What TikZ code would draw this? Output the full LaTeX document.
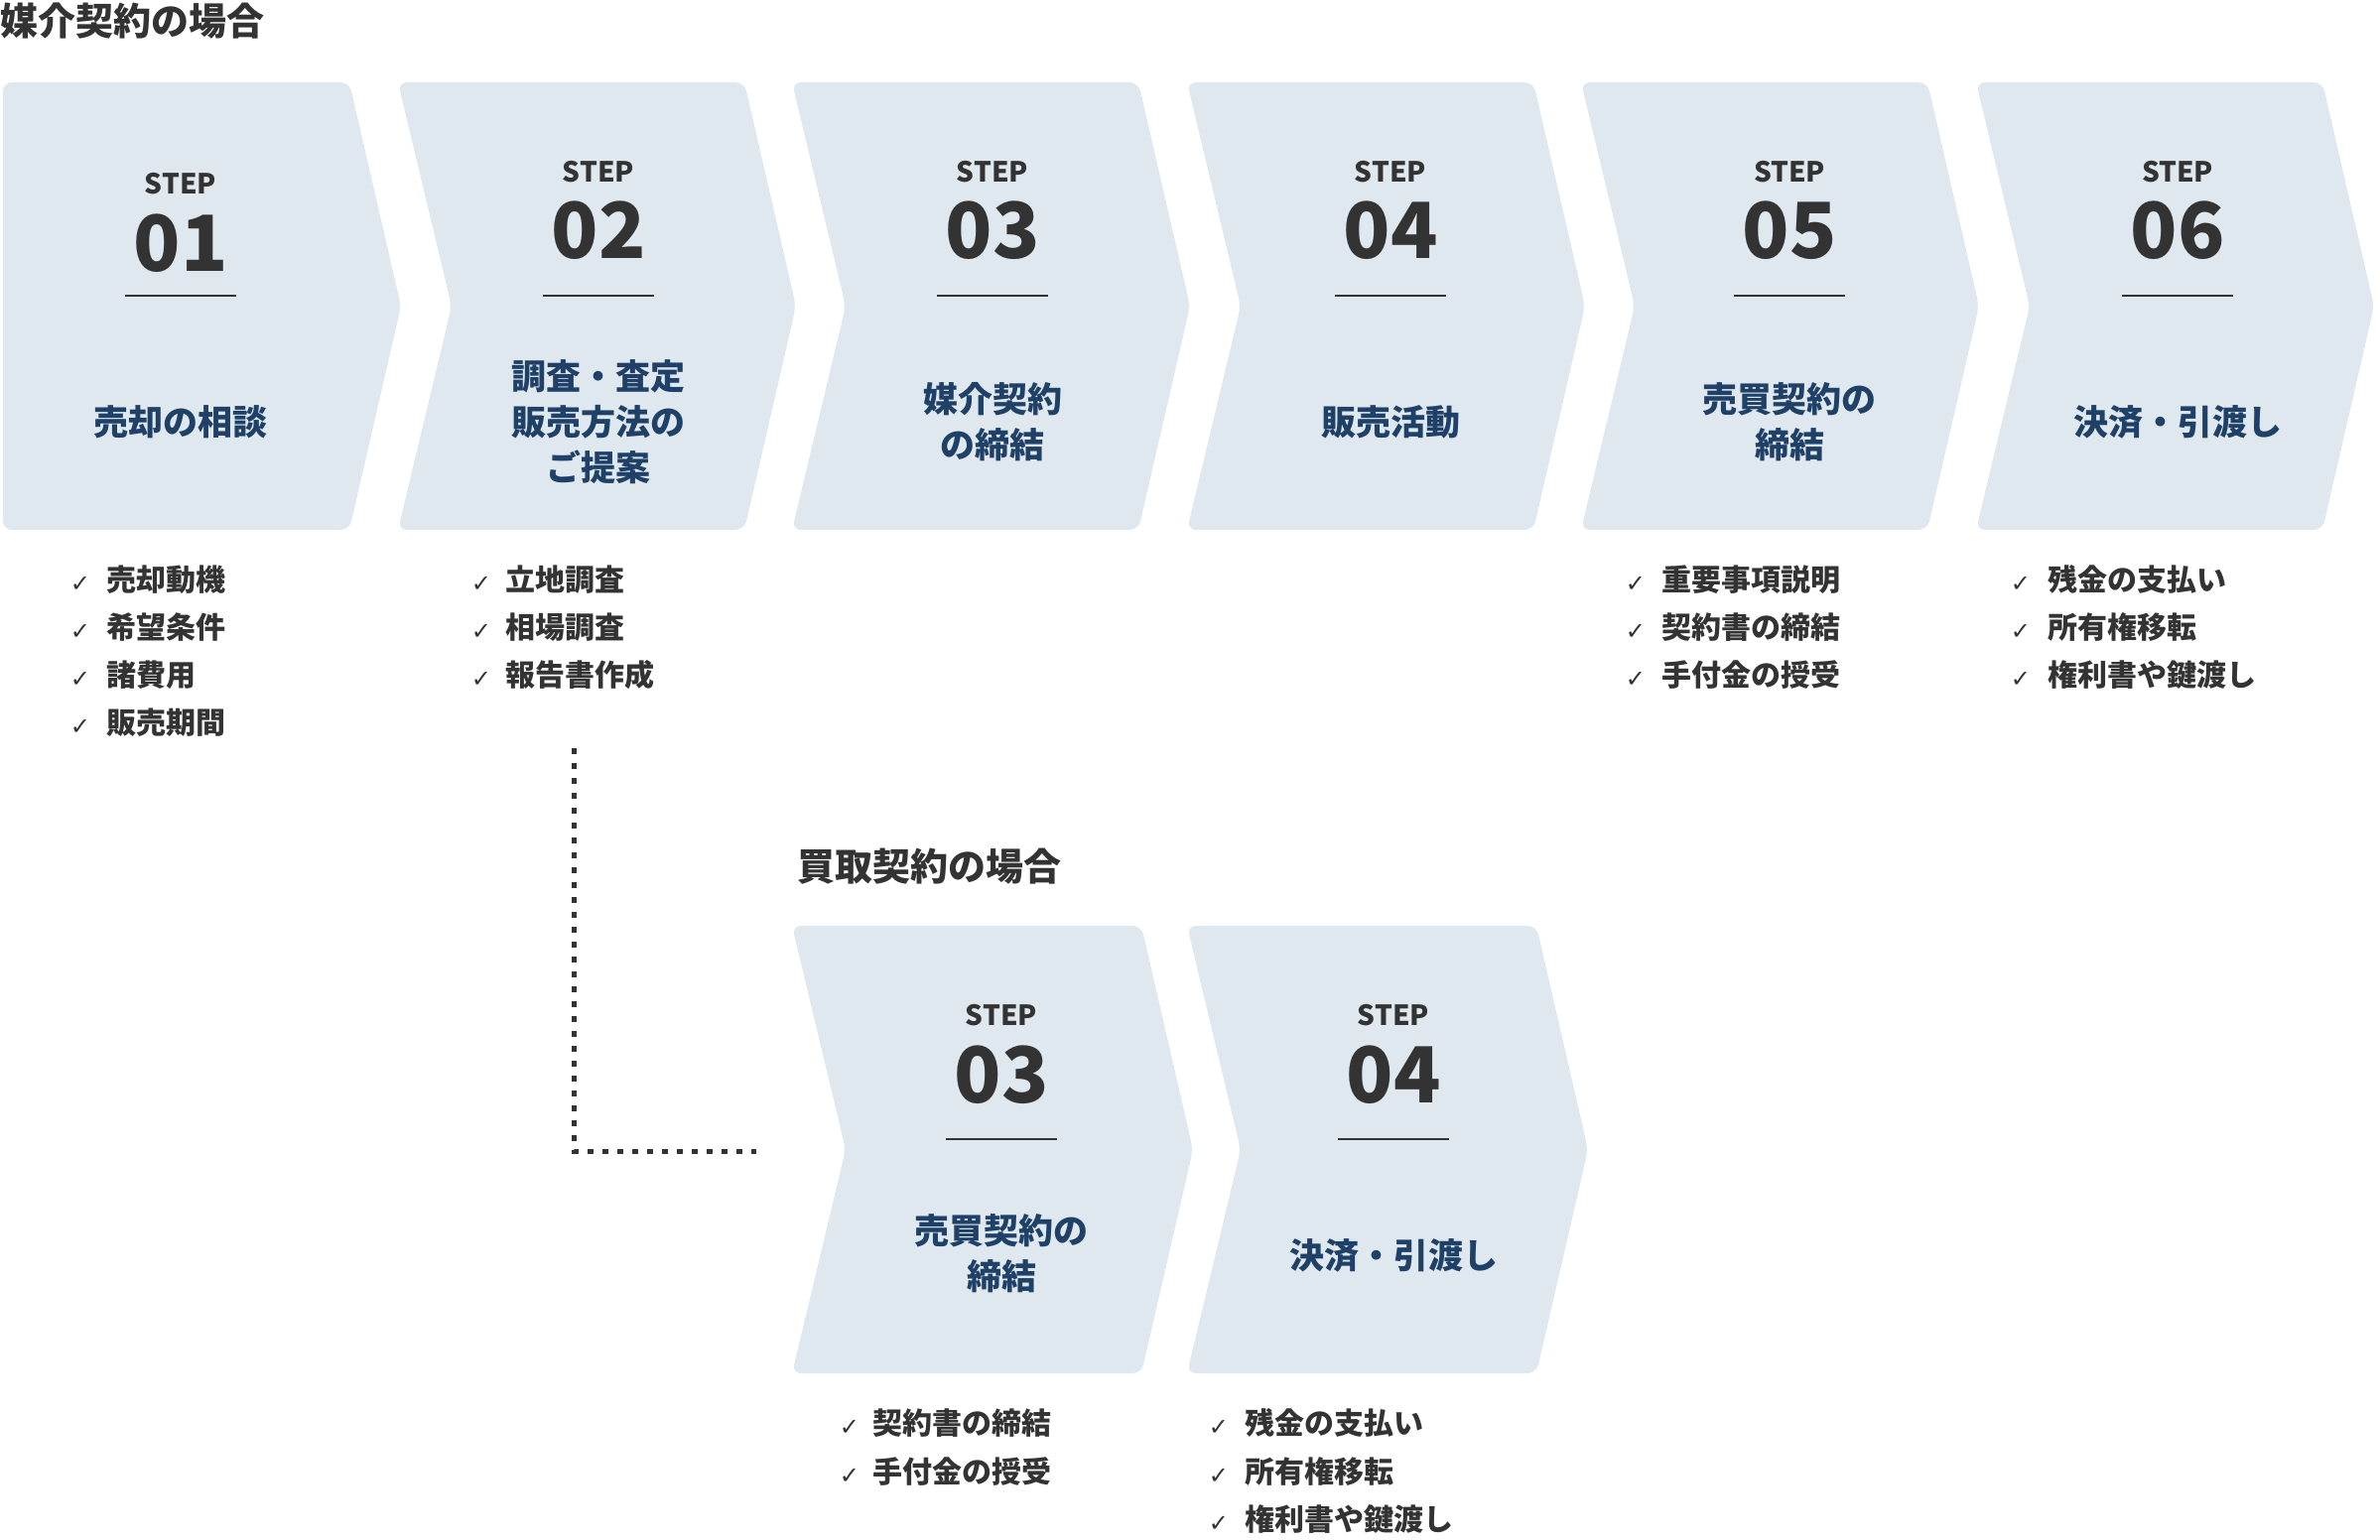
\documentclass[tikz,border=0pt]{standalone}
\usepackage{fontspec}
\setmainfont{Noto Sans CJK JP}
\newfontfamily\chk{DejaVu Sans}
\definecolor{boxfill}{HTML}{DFE7EF}
\definecolor{navy}{HTML}{1F4168}
\definecolor{dark}{HTML}{333333}
\tikzset{
  stepword/.style={font=\fontsize{28}{30}\selectfont\bfseries, text=dark, inner sep=0},
  stepnum/.style={font=\fontsize{78}{80}\selectfont\bfseries, text=dark, inner sep=0},
  steplabel/.style={font=\fontsize{35}{46}\selectfont\bfseries, text=navy, align=center, inner sep=0},
  listitem/.style={font=\fontsize{30}{32}\selectfont\bfseries, text=dark, anchor=west, inner sep=0},
  chkmark/.style={font=\chk\fontsize{24}{26}\selectfont\bfseries, text=dark, inner sep=0},
  heading/.style={font=\fontsize{38}{40}\selectfont\bfseries, text=dark, anchor=west, inner sep=0},
  chevfill/.style={fill=boxfill, rounded corners=9pt},
  rule/.style={draw=dark, line width=2pt},
  dotline/.style={draw=dark, line width=5pt, dash pattern=on 6pt off 9pt}
}
\newcommand{\chevron}[5]{% x0, ytop, ybot, width, notch
  \fill[chevfill] (#1,#2) -- ({#1+#4},#2) -- ({#1+#4+52},{(#2+#3)/2}) -- ({#1+#4},#3) -- (#1,#3) -- ({#1+#5},{(#2+#3)/2}) -- cycle;}
\newcommand{\stephead}[6]{% name, cx, ystep, ynum, yline, number
  \node[stepword] (#1w) at (#2,#3) {STEP};
  \node[stepnum] (#1n) at (#2,#4) {#6};
  \draw[rule] ({#2-56},#5) -- ({#2+56},#5);}
\newcommand{\litem}[5]{% name, xcheck, xtext, y, text
  \node[chkmark] (#1c) at (#2,{#4+5}) {✓};
  \node[listitem] (#1) at (#3,#4) {#5};}
\begin{document}
\begin{tikzpicture}[x=1pt,y=-1pt]
\useasboundingbox (0,0) rectangle (2398,1551);
\node[heading] (h1) at (0,21) {媒介契約の場合};
% top chevrons
\chevron{3}{83}{534}{349}{0}
\chevron{401}{83}{534}{349}{54}
\chevron{798}{83}{534}{349}{54}
\chevron{1196}{83}{534}{349}{54}
\chevron{1593}{83}{534}{349}{54}
\chevron{1991}{83}{534}{349}{54}
\stephead{s1}{182}{185}{245}{298}{01}
\stephead{s2}{603}{173}{232}{298}{02}
\stephead{s3}{1000}{173}{232}{298}{03}
\stephead{s4}{1401}{173}{232}{298}{04}
\stephead{s5}{1803}{173}{232}{298}{05}
\stephead{s6}{2194}{173}{232}{298}{06}
\node[steplabel] (l1) at (182,425) {売却の相談};
\node[steplabel] (l2) at (603,425) {調査・査定\\販売方法の\\ご提案};
\node[steplabel] (l3) at (1000,425) {媒介契約\\の締結};
\node[steplabel] (l4) at (1401,425) {販売活動};
\node[steplabel] (l5) at (1803,425) {売買契約の\\締結};
\node[steplabel] (l6) at (2194,425) {決済・引渡し};
% lists
\litem{a1}{81}{107}{584}{売却動機}
\litem{a2}{81}{107}{632}{希望条件}
\litem{a3}{81}{107}{680}{諸費用}
\litem{a4}{81}{107}{728}{販売期間}
\litem{b1}{485}{509}{584}{立地調査}
\litem{b2}{485}{509}{632}{相場調査}
\litem{b3}{485}{509}{680}{報告書作成}
\litem{c1}{1648}{1674}{584}{重要事項説明}
\litem{c2}{1648}{1674}{632}{契約書の締結}
\litem{c3}{1648}{1674}{680}{手付金の授受}
\litem{d1}{2036}{2063}{584}{残金の支払い}
\litem{d2}{2036}{2063}{632}{所有権移転}
\litem{d3}{2036}{2063}{680}{権利書や鍵渡し}
% dotted connector
\coordinate (p0) at (578,754);
\coordinate (p1) at (578,1160);
\coordinate (p2) at (762,1160);
\draw[dotline] (p0) -- (p1) -- (p2);
% bottom section
\node[heading] (h2) at (803,873) {買取契約の場合};
\chevron{798}{933}{1384}{352}{54}
\chevron{1196}{933}{1384}{352}{54}
\stephead{t3}{1009}{1023}{1083}{1148}{03}
\stephead{t4}{1404}{1023}{1083}{1148}{04}
\node[steplabel] (m3) at (1009,1263) {売買契約の\\締結};
\node[steplabel] (m4) at (1404,1265) {決済・引渡し};
\litem{e1}{856}{879}{1434}{契約書の締結}
\litem{e2}{856}{879}{1483}{手付金の授受}
\litem{f1}{1228}{1254}{1434}{残金の支払い}
\litem{f2}{1228}{1254}{1483}{所有権移転}
\litem{f3}{1228}{1254}{1531}{権利書や鍵渡し}
\end{tikzpicture}
\end{document}
